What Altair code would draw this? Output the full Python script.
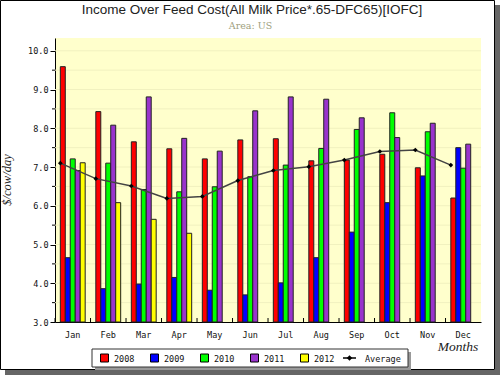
import altair as alt
import pandas as pd

months = ["Jan", "Feb", "Mar", "Apr", "May", "Jun", "Jul", "Aug", "Sep", "Oct", "Nov", "Dec"]
years = ["2008", "2009", "2010", "2011", "2012"]
colors = ["#FF0000", "#0000FF", "#00FF00", "#9933CC", "#FFFF00"]

v2008 = [9.59, 8.43, 7.65, 7.47, 7.21, 7.70, 7.73, 7.16, 7.18, 7.33, 6.98, 6.20]
v2009 = [4.66, 3.86, 3.98, 4.15, 3.82, 3.70, 4.01, 4.66, 5.32, 6.08, 6.77, 7.50]
v2010 = [7.21, 7.10, 6.42, 6.36, 6.49, 6.75, 7.05, 7.48, 7.97, 8.40, 7.91, 6.97]
v2011 = [6.91, 8.08, 8.81, 7.74, 7.41, 8.45, 8.81, 8.75, 8.27, 7.76, 8.13, 7.59]
v2012 = [7.11, 6.08, 5.65, 5.29]
avg = [7.10, 6.70, 6.51, 6.19, 6.24, 6.65, 6.91, 7.01, 7.18, 7.40, 7.44, 7.05]

y_ticks = [3, 4, 5, 6, 7, 8, 9, 10]
minor_ticks = [3.5, 4.5, 5.5, 6.5, 7.5, 8.5, 9.5]
grid_vals = [3.5, 4, 4.5, 5, 5.5, 6, 6.5, 7, 7.5, 8, 8.5, 9, 9.5, 10]

rows = []
for yr, vals in zip(years, [v2008, v2009, v2010, v2011, v2012]):
    for m, v in zip(months, vals):
        rows.append({"month": m, "year": yr, "value": v, "base": 3})
bars_df = pd.DataFrame(rows)
avg_df = pd.DataFrame({"month": months, "value": avg})
grid_df = pd.DataFrame({"value": grid_vals})
minor_df = pd.DataFrame({"value": minor_ticks})
month_df = pd.DataFrame({"month": months})

W, H = 426, 284
MONO = "DejaVu Sans Mono"
SERIF = "Liberation Serif"

x_scale = alt.Scale(domain=months, paddingInner=0.3, paddingOuter=0.15)
y_scale = alt.Scale(domain=[3, 10.33], nice=False, zero=False)

x_axis = alt.Axis(title="", labelAngle=0, labelFont=MONO, labelFontSize=8.5, labelColor="#111",
                  ticks=False, tickSize=0, labelPadding=8, domainColor="#000", grid=False)
y_axis = alt.Axis(title="", values=y_ticks, format=".1f", labelFont=MONO, labelFontSize=8.5,
                  labelColor="#111", tickSize=5, tickColor="#000", labelPadding=2,
                  domainColor="#000", grid=False)

X = alt.X("month:N", scale=x_scale, sort=months, axis=x_axis)
Y = alt.Y("value:Q", scale=y_scale, axis=y_axis)

grid = alt.Chart(grid_df).mark_rule(color="#F1F1BF", strokeWidth=1).encode(
    y=Y, x=alt.value(0), x2=alt.value(W))

bars = alt.Chart(bars_df).mark_bar(stroke="#222", strokeWidth=1).encode(
    x=X,
    xOffset=alt.XOffset("year:N", scale=alt.Scale(domain=years, paddingInner=0, paddingOuter=0)),
    y=Y,
    y2="base:Q",
    color=alt.Color("year:N", scale=alt.Scale(domain=years, range=colors), legend=None),
)

line = alt.Chart(avg_df).mark_line(color="#444", strokeWidth=1.5).encode(
    x=alt.X("month:N", scale=x_scale, sort=months, axis=x_axis, bandPosition=0), y=Y)
pts = alt.Chart(avg_df).mark_point(shape="diamond", filled=True, color="#000", size=22, opacity=1).encode(
    x=alt.X("month:N", scale=x_scale, sort=months, axis=x_axis, bandPosition=0), y=Y)

minor = alt.Chart(minor_df).mark_rule(color="#000").encode(
    y=Y, x=alt.value(-3), x2=alt.value(0))

xticks = alt.Chart(month_df).mark_rule(color="#000").encode(
    x=alt.X("month:N", scale=x_scale, sort=months, axis=x_axis, bandPosition=0),
    xOffset=alt.value(-5.3),
    y=alt.value(H - 4), y2=alt.value(H))

one = pd.DataFrame({"a": [0]})

def rect(x1, x2, y1, y2, **kw):
    return alt.Chart(one).mark_rect(**kw).encode(
        x=alt.value(x1), x2=alt.value(x2), y=alt.value(y1), y2=alt.value(y2))

def text(s, x, y, **kw):
    return alt.Chart(pd.DataFrame({"t": [s]})).mark_text(**kw).encode(
        text="t:N", x=alt.value(x), y=alt.value(y))

frame = [
    rect(440, 445, -33, 337, fill="#666"),
    rect(-50, 445, 332, 337, fill="#666"),
    rect(-54.5, 439.5, -37.5, 331.5, fill="transparent", stroke="#000", strokeWidth=1),
]

# legend
leg = [
    rect(40, 356, 314, 332, fill="#999"),
    rect(37, 353, 311, 329, fill="#FFF", stroke="#333", strokeWidth=1),
]
for i, (yr, c) in enumerate(zip(years, colors)):
    x0 = 45.5 + 50 * i
    leg.append(rect(x0, x0 + 8, 316, 324, fill=c, stroke="#000", strokeWidth=1))
    leg.append(text(yr, x0 + 13.5, 320.5, font=MONO, fontSize=8.5, align="left", baseline="middle", color="#111"))
leg.append(alt.Chart(one).mark_rule(color="#000", strokeWidth=1.5).encode(
    x=alt.value(288), x2=alt.value(301), y=alt.value(320)))
leg.append(alt.Chart(one).mark_point(shape="diamond", filled=True, color="#000", size=30, opacity=1).encode(
    x=alt.value(294.5), y=alt.value(320)))
leg.append(text("Average", 310, 320.5, font=MONO, fontSize=8.5, align="left", baseline="middle", color="#111"))

titles = [
    text("Income Over Feed Cost(All Milk Price*.65-DFC65)[IOFC]", 197, -28, font="Liberation Sans",
         fontSize=13.5, color="#222", align="center", baseline="middle"),
    text("Area: US", 195.5, -12, font="DejaVu Serif", fontSize=9.5, color="#A09F80",
         align="center", baseline="middle"),
    text("$/cow/day", -48, 142, font=SERIF, fontStyle="italic", fontSize=12.5, color="#222",
         angle=270, align="center", baseline="middle"),
    text("Months", 403, 309, font=SERIF, fontStyle="italic", fontSize=13.5, color="#222",
         align="center", baseline="middle"),
]

chart = alt.layer(grid, bars, line, pts, minor, xticks, *frame, *leg, *titles).properties(
    width=W, height=H,
    autosize=alt.AutoSizeParams(type="none"),
    padding={"left": 55, "top": 38, "right": 19, "bottom": 53},
    background="#FFFFFF",
).configure_view(fill="#FFFFCC", stroke=None)

chart.save("out.html", embed_options={"renderer": "svg", "actions": False})
